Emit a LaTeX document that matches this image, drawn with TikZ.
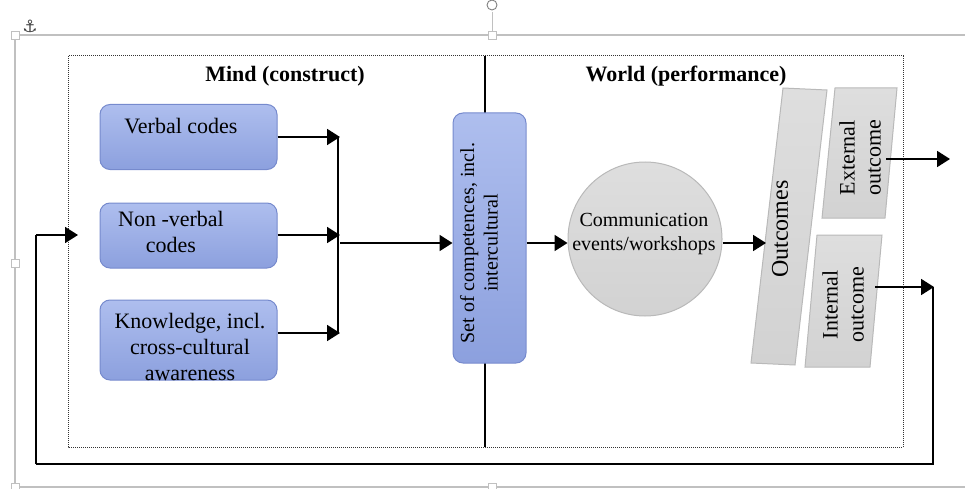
\documentclass[tikz,border=0pt]{standalone}
\usepackage{fontspec}
\setmainfont{Liberation Serif}
\newfontfamily\serifface{Liberation Serif}
\newfontfamily\dejavu{DejaVu Sans}
\usetikzlibrary{arrows.meta}
\definecolor{bluefillT}{RGB}{174,190,238}
\definecolor{bluefillB}{RGB}{140,160,222}
\definecolor{blueedge}{RGB}{118,138,205}
\definecolor{greyfill}{RGB}{210,210,210}
\definecolor{greyfillT}{RGB}{222,222,222}
\definecolor{greyedge}{RGB}{185,185,185}
\definecolor{framegrey}{RGB}{192,192,192}
\begin{document}
\begin{tikzpicture}[x=1pt,y=-1pt,
 txt/.style={font=\serifface\fontsize{22}{26}\selectfont, align=center, inner sep=0pt},
 smalltxt/.style={font=\serifface\fontsize{20}{23.5}\selectfont, align=center, inner sep=0pt},
 bigtxt/.style={font=\serifface\fontsize{24}{28}\selectfont, align=center, inner sep=0pt},
 ttl/.style={font=\serifface\fontsize{22}{26}\selectfont\bfseries, inner sep=0pt},
 bluebox/.style={draw=blueedge, line width=1pt, rounded corners=10pt, top color=bluefillT, bottom color=bluefillB, inner sep=0pt},
 greyshape/.style={draw=greyedge, line width=1pt, top color=greyfillT, bottom color=greyfill},
 arr/.style={line width=1.9pt, -{Triangle[length=13pt,width=16pt]}},
 ln/.style={line width=1.9pt},
 handle/.style={draw=framegrey, fill=white, line width=0.9pt, minimum size=8pt, inner sep=0pt},
]
\useasboundingbox (0,0) rectangle (965,489);

% selection frame (Word style)
\draw[framegrey, line width=1.4pt] (980,35) -- (15,35) -- (15,495);
\draw[framegrey, line width=1.4pt] (15,487) -- (980,487);
\draw[framegrey, line width=0.9pt] (492,12) -- (492,31);
\draw[gray, line width=0.9pt] (492,5) circle (5);
\node[handle] (h1) at (15,35) {};
\node[handle] (h2) at (492,35) {};
\node[handle] (h3) at (15,263) {};
\node[handle] (h4) at (15,487) {};
\node[handle] (h5) at (492,487) {};
\node[handle] (h6) at (969,263) {};
\node[font=\dejavu\fontsize{17}{17}\selectfont, text=black!75, inner sep=0pt] (anchor) at (30,26) {⚓};

% dotted frame and divider
\draw[black!80, line width=1pt, dash pattern=on 1pt off 1pt] (68,56) rectangle (903,447);
\draw[line width=1.2pt] (485,56) -- (485,447);

% titles
\node[ttl] (mind) at (285,76) {Mind (construct)};
\node[ttl] (world) at (686,76) {World (performance)};

% blue boxes
\node[bluebox, minimum width=177pt, minimum height=65pt] (verbal) at (188.5,137) {};
\node[txt] (verbalT) at (181,126) {Verbal codes};
\node[bluebox, minimum width=177pt, minimum height=65pt] (nonverbal) at (188.5,235.5) {};
\node[txt] (nonverbalT) at (171,232) {Non -verbal\\codes};
\node[bluebox, minimum width=177pt, minimum height=80pt] (know) at (188.5,340) {};
\node[txt] (knowT) at (190,347) {Knowledge, incl.\\cross-cultural\\awareness};

\node[bluebox, minimum width=73pt, minimum height=250pt] (comp) at (489.5,238) {};
\node[smalltxt, rotate=90] (compT) at (479,243) {Set of competences, incl.\\intercultural};

% circle
\node[circle, draw=greyedge, line width=1pt, top color=greyfillT, bottom color=greyfill, minimum size=154pt, inner sep=0pt] (circ) at (645,239) {};
\node[smalltxt] (circT) at (644,234) {Communication\\events/workshops};

% outcomes shapes
\coordinate (o1) at (783,88); \coordinate (o2) at (827,90);
\coordinate (o3) at (795,365); \coordinate (o4) at (751,363);
\draw[greyshape] (o1) -- (o2) -- (o3) -- (o4) -- cycle;
\node[bigtxt, rotate=90] (outT) at (780,229) {Outcomes};
\coordinate (outIn) at (766,243);

\coordinate (e1) at (835,88); \coordinate (e2) at (897,88);
\coordinate (e3) at (885,218); \coordinate (e4) at (822,218);
\draw[greyshape] (e1) -- (e2) -- (e3) -- (e4) -- cycle;
\node[txt, rotate=90] (extT) at (860,158) {External\\outcome};
\coordinate (extOut) at (886,159);
\coordinate (extEnd) at (950,159);

\coordinate (i1) at (817,235); \coordinate (i2) at (882,235);
\coordinate (i3) at (870,367); \coordinate (i4) at (805,367);
\draw[greyshape] (i1) -- (i2) -- (i3) -- (i4) -- cycle;
\node[txt, rotate=90] (intT) at (843,305) {Internal\\outcome};
\coordinate (intOut) at (875,287);
\coordinate (intEnd) at (934,287);

% connectors
\coordinate (j1) at (340,137);
\coordinate (j2) at (340,235);
\coordinate (j3) at (340,333);
\coordinate (jout) at (340,243);
\draw[arr] (verbal.east) -- (j1);
\draw[arr] (nonverbal.east |- j2) -- (j2);
\draw[arr] (know.east |- j3) -- (j3);
\draw[ln] (338,137) -- (338,333);
\draw[arr] (jout) -- (comp.west |- jout);
\draw[arr] (comp.east |- jout) -- (circ.west |- jout);
\draw[arr] (circ.east |- jout) -- (outIn);
\draw[arr] (extOut) -- (extEnd);
\draw[arr] (intOut) -- (intEnd);
\coordinate (b1) at (933,464);
\coordinate (b2) at (36,464);
\coordinate (loopEnd) at (78,235);
\draw[line width=2.6pt] (intEnd -| b1) -- (b1) -- (b2);
\draw[line width=1.9pt] (b2) -- (b2 |- loopEnd);
\draw[arr] (b2 |- loopEnd) -- (loopEnd);
\end{tikzpicture}
\end{document}
